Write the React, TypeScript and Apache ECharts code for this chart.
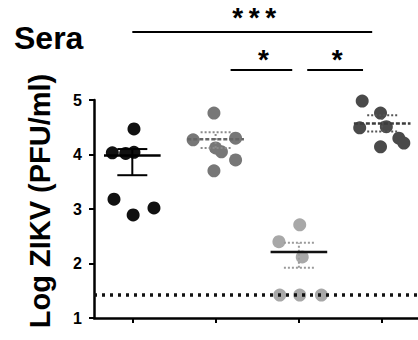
import React, { useEffect, useRef } from "react";
import * as echarts from "echarts";

// Column positions of the four sera groups on the x axis
const groupPositions = [1, 2, 3, 4];

// Individual animals: log10 titre and horizontal scatter within each column
const group1Log = [4.47, 4.03, 4.04, 4.02, 3.18, 2.89, 3.02];
const group1Jitter = [0.02, -0.24, 0.02, -0.08, -0.22, 0.01, 0.26];
const group2Log = [4.76, 4.27, 4.3, 4.12, 4.05, 3.9, 3.7];
const group2Jitter = [-0.02, -0.27, 0.24, 0.0, 0.07, 0.24, -0.02];
const group3Log = [2.71, 2.4, 2.12, 1.42, 1.42, 1.42];
const group3Jitter = [0.01, -0.24, 0.04, -0.23, 0.01, 0.27];
const group4Log = [4.98, 4.76, 4.49, 4.51, 4.3, 4.21, 4.14];
const group4Jitter = [-0.24, -0.02, -0.27, 0.05, 0.2, 0.26, -0.02];

// Group mean with SEM range
const meanLog = [3.98, 4.28, 2.21, 4.57];
const semLow = [3.62, 4.12, 1.92, 4.42];
const semHigh = [4.1, 4.41, 2.38, 4.72];

// Limit of detection
const detectionLimit = 1.42;

// Significance brackets (x range in column units) and their labels
const sigFrom = [1.0, 2.18, 3.1];
const sigTo = [3.88, 2.92, 3.77];
const sigLabels = ["*\u2009*\u2009*", "*", "*"];

const yTicks = [1, 2, 3, 4, 5];

const dotColors = ["#111111", "#777777", "#a8a8a8", "#4a4a4a"];
const meanColors = ["#000000", "#666666", "#111111", "#3c3c3c"];
const capColors = ["#000000", "#8a8a8a", "#9a9a9a", "#555555"];

const FONT = "'Liberation Sans', Arial, sans-serif";

function points(values: number[], jitter: number[], pos: number) {
  return values.map((v, i) => [pos + jitter[i], v]);
}

export default function App() {
  const ref = useRef<HTMLDivElement>(null);

  useEffect(() => {
    if (!ref.current) return;
    const chart = echarts.init(ref.current, null, { renderer: "svg" });

    const groups = [
      points(group1Log, group1Jitter, groupPositions[0]),
      points(group2Log, group2Jitter, groupPositions[1]),
      points(group3Log, group3Jitter, groupPositions[2]),
      points(group4Log, group4Jitter, groupPositions[3]),
    ];

    const scatterSeries = groups.map((data, i) => ({
      type: "scatter",
      data,
      symbol: "circle",
      symbolSize: 13,
      z: 3,
      itemStyle: { color: dotColors[i], opacity: 1 },
      silent: true,
    }));

    const summaryData = meanLog.map((m, i) => [groupPositions[i], m, semLow[i], semHigh[i], i]);

    chart.setOption({
      animation: false,
      grid: { left: 94, right: 0, top: 100, bottom: 22 },
      xAxis: {
        type: "value",
        min: 0.54,
        max: 4.43,
        splitLine: { show: false },
        axisLine: { show: true, lineStyle: { color: "#000", width: 2.5 } },
        axisTick: {
          show: true,
          customValues: groupPositions,
          length: 5,
          lineStyle: { color: "#000", width: 2 },
        },
        axisLabel: { show: false },
      },
      yAxis: {
        type: "value",
        min: 1,
        max: 5,
        interval: 1,
        splitLine: { show: false },
        axisLine: { show: true, lineStyle: { color: "#000", width: 2.5 } },
        axisTick: { show: true, length: 5, lineStyle: { color: "#000", width: 2 } },
        axisLabel: {
          customValues: yTicks,
          fontFamily: FONT,
          fontSize: 16,
          fontWeight: "bold",
          color: "#000",
          margin: 12,
        },
      },
      series: [
        {
          type: "line",
          data: [],
          z: 1,
          markLine: {
            silent: true,
            symbol: "none",
            label: { show: false },
            lineStyle: { color: "#111", width: 3.5, type: [3, 5] },
            data: [{ yAxis: detectionLimit }],
          },
        },
        ...scatterSeries,
        {
          type: "custom",
          z: 4,
          silent: true,
          data: summaryData,
          renderItem: (params: any, api: any) => {
            const x = api.value(0);
            const idx = api.value(4);
            const mid = api.coord([x, api.value(1)]);
            const lo = api.coord([x, api.value(2)]);
            const hi = api.coord([x, api.value(3)]);
            const halfMean = api.size([0.34, 0])[0];
            const halfCap = api.size([0.18, 0])[0];
            const meanStyle = {
              stroke: meanColors[idx],
              lineWidth: 2.5,
              lineDash: idx === 0 || idx === 2 ? null : [4, 2],
            };
            const capStyle = {
              stroke: capColors[idx],
              lineWidth: 2,
              lineDash: idx === 0 ? null : [2, 2],
            };
            return {
              type: "group",
              children: [
                { type: "line", shape: { x1: mid[0], y1: lo[1], x2: mid[0], y2: hi[1] }, style: capStyle },
                { type: "line", shape: { x1: mid[0] - halfCap, y1: lo[1], x2: mid[0] + halfCap, y2: lo[1] }, style: capStyle },
                { type: "line", shape: { x1: mid[0] - halfCap, y1: hi[1], x2: mid[0] + halfCap, y2: hi[1] }, style: capStyle },
                { type: "line", shape: { x1: mid[0] - halfMean, y1: mid[1], x2: mid[0] + halfMean, y2: mid[1] }, style: meanStyle },
              ],
            };
          },
        },
      ],
    });

    // Significance brackets above the plot, positioned from the column scale
    const rowY = [32, 70, 70];
    const labelY = [3, 45, 45];
    const brackets: any[] = [];
    sigFrom.forEach((from, i) => {
      const a = chart.convertToPixel({ gridIndex: 0 }, [from, 1]) as number[];
      const b = chart.convertToPixel({ gridIndex: 0 }, [sigTo[i], 1]) as number[];
      brackets.push({
        type: "line",
        shape: { x1: a[0], y1: rowY[i], x2: b[0], y2: rowY[i] },
        style: { stroke: "#000", lineWidth: 2 },
      });
      brackets.push({
        type: "text",
        x: (a[0] + b[0]) / 2 + 2,
        y: labelY[i],
        style: {
          text: sigLabels[i],
          fontFamily: FONT,
          fontSize: 28,
          fontWeight: "bold",
          fill: "#000",
          textAlign: "center",
          textVerticalAlign: "top",
        },
      });
    });

    chart.setOption({
      graphic: [
        {
          type: "text",
          x: 14,
          y: 38,
          style: {
            text: "Sera",
            fontFamily: FONT,
            fontSize: 32,
            fontWeight: "bold",
            fill: "#000",
            textAlign: "left",
            textVerticalAlign: "middle",
          },
        },
        {
          type: "text",
          x: 40,
          y: 201,
          rotation: Math.PI / 2,
          style: {
            text: "Log ZIKV (PFU/ml)",
            fontFamily: FONT,
            fontSize: 29,
            fontWeight: "bold",
            fill: "#000",
            textAlign: "center",
            textVerticalAlign: "middle",
          },
        },
        ...brackets,
      ],
    });

    return () => chart.dispose();
  }, []);

  return (
    <div
      ref={ref}
      style={{ position: "fixed", left: 0, top: 0, width: 418, height: 340, background: "#fff" }}
    />
  );
}
